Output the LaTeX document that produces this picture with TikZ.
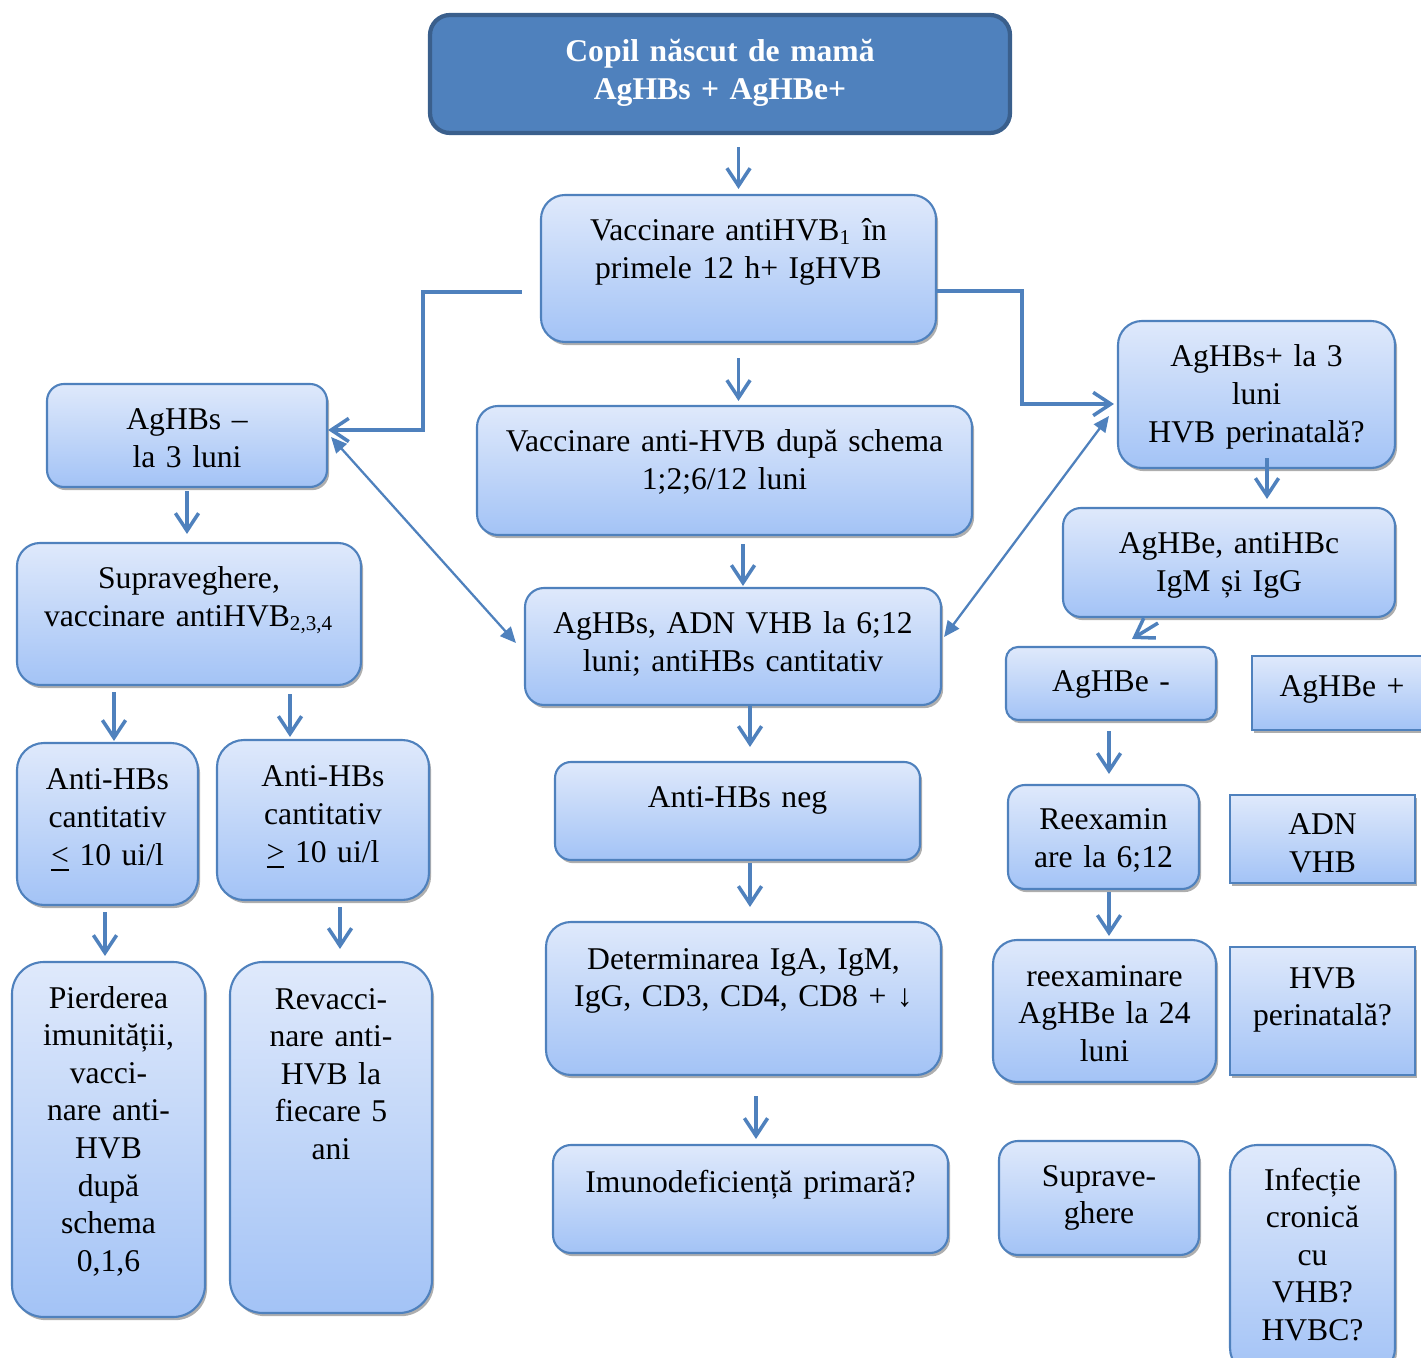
\documentclass[tikz,border=0pt]{standalone}
\usepackage{fontspec}
\setmainfont{Liberation Serif}
\usetikzlibrary{arrows.meta}
\usetikzlibrary{shadows}

\definecolor{accent}{HTML}{4F81BD}
\definecolor{accentdark}{HTML}{3A5F8C}
\definecolor{gradtop}{HTML}{DFE9FB}
\definecolor{gradbot}{HTML}{A3C3F6}

\begin{document}
\begin{tikzpicture}[
	card/.style={
		draw=accent, line width=0.6pt, rounded corners=#1cm,
		top color=gradtop, bottom color=gradbot,
		drop shadow={shadow xshift=0.6pt, shadow yshift=-0.9pt, opacity=0.45, fill=black!70},
		align=center, inner sep=0pt, text height=0.46cm,
		font=\fontsize{9}{10.7}\selectfont
	},
	card/.default=0.2]
	%\draw[help lines] (0,0) grid (15,-14);
	\tikzstyle{flat} = [card, sharp corners, text height=0.41cm]
	\tikzstyle{head} = [draw=accentdark, line width=1.2pt, fill=accent, rounded corners=0.2cm, text=white, align=center, inner sep=0pt, text height=0.47cm, font=\bfseries\fontsize{9}{10.7}\selectfont]
	\tikzstyle{edge} = [draw=accent, line width=1pt, -{Straight Barb[length=5pt,width=6.6pt]}]
	\tikzstyle{both} = [draw=accent, line width=0.65pt, {Triangle[length=4.5pt,width=4pt]}-{Triangle[length=4.5pt,width=4pt]}]
	\clip (0,0) rectangle (14.21,-13.58);

	\node[head, text width=5.80cm, text depth=0.71cm] (top) at (7.20,-0.74) {Copil născut de mamă\\AgHBs + AgHBe+};

	% middle column
	\node[card=0.24, text width=3.95cm, text depth=1.01cm] (vacc1) at (7.385,-2.685) {Vaccinare antiHVB\textsubscript{1} în\\primele 12 h+ IgHVB};
	\node[card=0.21, text width=4.95cm, text depth=0.83cm] (vacc2) at (7.245,-4.705) {Vaccinare anti-HVB după schema\\1;2;6/12 luni};
	\node[card=0.19, text width=4.16cm, text depth=0.71cm] (tests) at (7.33,-6.465) {AgHBs, ADN VHB la 6;12\\luni; antiHBs cantitativ};
	\node[card=0.16, text width=3.65cm, text depth=0.52cm] (antineg) at (7.375,-8.11) {Anti-HBs neg};
	\node[card=0.25, text width=3.95cm, text depth=1.06cm, text height=0.47cm] (determ) at (7.435,-9.985) {Determinarea IgA, IgM,\\IgG, CD3, CD4, CD8 + ↓};
	\node[card=0.18, text width=3.95cm, text depth=0.61cm, text height=0.47cm] (imuno) at (7.505,-11.99) {Imunodeficiență primară?};

	% left column
	\node[card=0.17, text width=2.80cm, text depth=0.57cm] (neg3) at (1.87,-4.355) {AgHBs –\\la 3 luni};
	\node[card=0.23, text width=3.44cm, text depth=0.96cm] (supra) at (1.89,-6.14) {Supraveghere,\\vaccinare antiHVB\textsubscript{2,3,4}};
	\node[card=0.27, text width=1.81cm, text depth=1.15cm, text height=0.47cm] (le10) at (1.075,-8.24) {Anti-HBs\\cantitativ\\\underline{<} 10 ui/l};
	\node[card=0.27, text width=2.12cm, text depth=1.13cm, text height=0.47cm] (ge10) at (3.23,-8.20) {Anti-HBs\\cantitativ\\\underline{>} 10 ui/l};
	\node[card=0.32, text width=1.93cm, text depth=3.09cm] (pierd) at (1.085,-11.395) {Pierderea\\imunității,\\vacci-\\nare anti-\\HVB\\după\\schema\\0,1,6};
	\node[card=0.33, text width=2.02cm, text depth=3.04cm, text height=0.47cm] (revac) at (3.31,-11.375) {Revacci-\\nare anti-\\HVB la\\fiecare 5\\ani};

	% right columns
	\node[card=0.24, text width=2.77cm, text depth=1.01cm] (pos3) at (12.565,-3.945) {AgHBs+ la 3\\luni\\HVB perinatală?};
	\node[card=0.18, text width=3.32cm, text depth=0.63cm] (markers) at (12.29,-5.625) {AgHBe, antiHBc\\IgM și IgG};
	\node[card=0.12, text width=2.10cm, text depth=0.28cm, text height=0.45cm] (eneg) at (11.11,-6.835) {AgHBe -};
	\node[card=0.17, text width=1.91cm, text depth=0.59cm, text height=0.45cm] (reex) at (11.035,-8.37) {Reexamin\\are la 6;12};
	\node[card=0.24, text width=2.23cm, text depth=0.96cm] (reex24) at (11.045,-10.11) {reexaminare\\AgHBe la 24\\luni};
	\node[card=0.19, text width=2.00cm, text depth=0.69cm, text height=0.45cm] (suprav) at (10.99,-11.98) {Suprave-\\ghere};
	\node[flat, text width=1.80cm, text depth=0.33cm] (epos) at (13.42,-6.93) {AgHBe +};
	\node[flat, text width=1.85cm, text depth=0.48cm, text height=0.40cm] (adnvhb) at (13.225,-8.39) {ADN\\VHB};
	\node[flat, text width=1.85cm, text depth=0.87cm] (hvbper) at (13.225,-10.11) {HVB\\perinatală?};
	\node[card=0.27, text width=1.65cm, text depth=1.85cm, text height=0.45cm] (infec) at (13.125,-12.60) {Infecție\\cronică\\cu\\VHB?\\HVBC?};

	% arrows down the middle
	\draw[edge, shorten <=1.2mm, shorten >=0.5mm] (vacc1.north |- top.south) -- (vacc1.north);
	\draw[edge, shorten <=1.5mm, shorten >=0.4mm] (vacc1.south) -- (vacc1.south |- vacc2.north);
	\draw[edge, shorten <=0.8mm, shorten >=0.1mm] ([xshift=1mm]tests.north |- vacc2.south) -- ([xshift=1mm]tests.north);
	\draw[edge, shorten >=1.4mm] ([xshift=1.25mm]antineg.north |- tests.south) -- ([xshift=1.25mm]antineg.north);
	\draw[edge, shorten <=0.2mm, shorten >=1.4mm] ([xshift=1.25mm]antineg.south) -- ([xshift=1.25mm]antineg.south |- determ.north);
	\draw[edge, shorten <=2mm, shorten >=0.5mm] ([xshift=0.55mm]imuno.north |- determ.south) -- ([xshift=0.55mm]imuno.north);

	% branches off the first vaccination
	\draw[edge] ([xshift=-1.8mm,yshift=-2.35mm]vacc1.west) -- ++(-0.99,0) |- ([yshift=0.55mm]neg3.east);
	\draw[edge] ([yshift=-2.25mm]vacc1.east) -- ++(0.85,0) |- ([xshift=-0.3mm,yshift=-0.95mm]pos3.west);
	\draw[both] ([xshift=0.3mm,yshift=-0.15mm]neg3.east) -- ([xshift=-0.8mm,yshift=0.35mm]tests.west);
	\draw[both] ([xshift=0.2mm,yshift=0.95mm]tests.east) -- ([xshift=-0.8mm,yshift=-2.15mm]pos3.west);

	% left side
	\draw[edge, shorten <=0.3mm, shorten >=0.8mm] (neg3.south) -- (neg3.south |- supra.north);
	\draw[edge, shorten <=0.6mm, shorten >=0.1mm] ([xshift=0.65mm]le10.north |- supra.south) -- ([xshift=0.65mm]le10.north);
	\draw[edge, shorten <=0.8mm, shorten >=0.2mm] ([xshift=-3.3mm]ge10.north |- supra.south) -- ([xshift=-3.3mm]ge10.north);
	\draw[edge, shorten <=0.6mm, shorten >=0.5mm] ([xshift=-0.25mm]le10.south) -- ([xshift=-0.25mm]le10.south |- pierd.north);
	\draw[edge, shorten <=0.6mm, shorten >=1.2mm] ([xshift=1.7mm]ge10.south) -- ([xshift=1.7mm]ge10.south |- revac.north);

	% right side
	\draw[edge, shorten <=-1.1mm, shorten >=0.8mm] ([xshift=1.05mm]pos3.south) -- ([xshift=1.05mm]pos3.south |- markers.north);
	\draw[edge] ([xshift=-7.1mm,yshift=-0.5mm]markers.south) -- ([xshift=2.1mm,yshift=0.7mm]eneg.north);
	\draw[edge, shorten <=1mm, shorten >=1mm] ([xshift=-0.2mm]eneg.south) -- ([xshift=-0.2mm]eneg.south |- reex.north);
	\draw[edge, shorten <=0.2mm, shorten >=0.3mm] ([xshift=0.55mm]reex.south) -- ([xshift=0.55mm]reex.south |- reex24.north);
\end{tikzpicture}
\end{document}
